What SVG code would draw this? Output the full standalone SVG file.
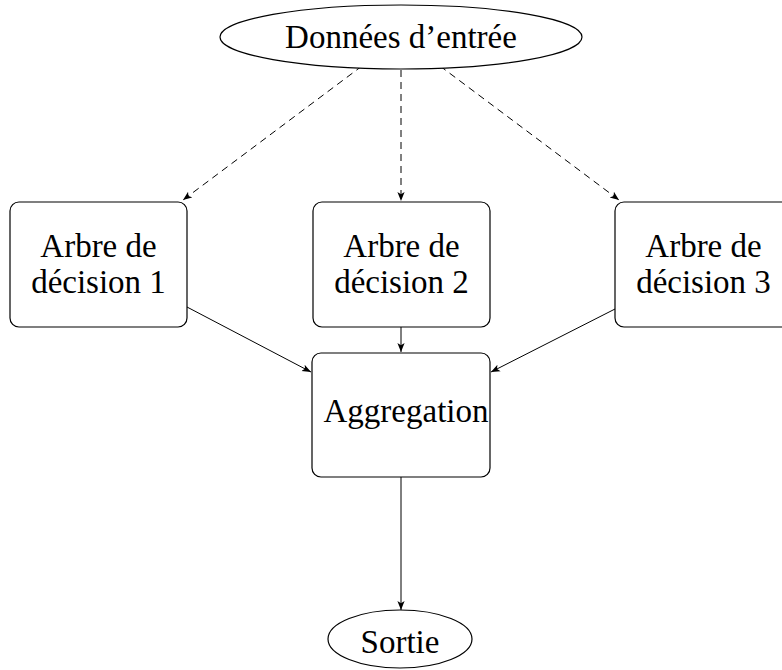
<svg xmlns="http://www.w3.org/2000/svg" width="782" height="670" viewBox="0 0 782 670">
<defs>
<style>
.shape{fill:#fff;stroke:#000;stroke-width:1.2}
.lbl{font-family:"Liberation Serif","DejaVu Serif",serif;font-size:33px;fill:#000;text-anchor:middle}
.edge{fill:none;stroke:#000;stroke-width:1}
.dash{stroke-dasharray:7 5}
</style>
<marker id="arr" viewBox="0 0 10 10" refX="10" refY="5" markerWidth="9" markerHeight="9" markerUnits="userSpaceOnUse" orient="auto">
<path d="M0,1 L10,5 L0,9 L2.5,5 Z" fill="#000"/>
</marker>
</defs>
<rect width="782" height="670" fill="#fff"/>
<g id="connectors">
<line class="edge dash" x1="362" y1="66" x2="183" y2="200" marker-end="url(#arr)"/>
<line class="edge dash" x1="401" y1="70" x2="401" y2="201" marker-end="url(#arr)"/>
<line class="edge dash" x1="440" y1="66" x2="619" y2="200" marker-end="url(#arr)"/>
<line class="edge" x1="187" y1="307" x2="311" y2="372" marker-end="url(#arr)"/>
<line class="edge" x1="401" y1="327" x2="401" y2="352" marker-end="url(#arr)"/>
<line class="edge" x1="615" y1="309" x2="491" y2="372" marker-end="url(#arr)"/>
<line class="edge" x1="401" y1="477" x2="401" y2="610" marker-end="url(#arr)"/>
</g>
<g id="input">
<ellipse class="shape" cx="401" cy="37" rx="181" ry="32"/>
<text class="lbl" x="401" y="48">Données d’entrée</text>
</g>
<g id="tree1">
<rect class="shape" x="10" y="202" width="177" height="125" rx="9"/>
<text class="lbl" x="98.5" y="257">Arbre de</text>
<text class="lbl" x="98.5" y="293">décision 1</text>
</g>
<g id="tree2">
<rect class="shape" x="313" y="202" width="177" height="125" rx="9"/>
<text class="lbl" x="401.5" y="257">Arbre de</text>
<text class="lbl" x="401.5" y="293">décision 2</text>
</g>
<g id="tree3">
<rect class="shape" x="615" y="202" width="177" height="125" rx="9"/>
<text class="lbl" x="703.5" y="257">Arbre de</text>
<text class="lbl" x="703.5" y="293">décision 3</text>
</g>
<g id="aggregation">
<rect class="shape" x="312" y="353" width="178" height="124" rx="9"/>
<text class="lbl" x="406" y="422">Aggregation</text>
</g>
<g id="output">
<ellipse class="shape" cx="400" cy="639" rx="72" ry="29"/>
<text class="lbl" x="400" y="653">Sortie</text>
</g>
</svg>
